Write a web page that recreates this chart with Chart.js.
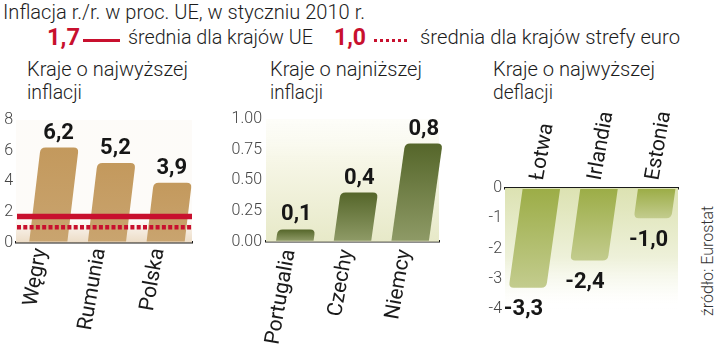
<!DOCTYPE html>
<html lang="pl">
<head>
<meta charset="utf-8">
<script src="https://cdn.jsdelivr.net/npm/chart.js@4/dist/chart.umd.min.js"></script>
<style>
  html, body { margin: 0; padding: 0; background: #fff; }
  body { width: 720px; height: 344px; position: relative; overflow: hidden;
         font-family: Roboto, "Noto Sans", sans-serif; color: #1c1c1c; }
  .t { position: absolute; white-space: nowrap; line-height: 1; transform-origin: 0 0; }
  .light { font-weight: 300; font-size: 21px; }
  .num { font-weight: 700; font-size: 24px; color: #c8102e; }
  .lineSolid { position: absolute; height: 3.5px; background: #c8102e; }
  .lineDot { position: absolute; height: 3.5px;
             background: repeating-linear-gradient(to right, #c8102e 0 3.5px, transparent 3.5px 6px); }
  canvas { position: absolute; }
  .src { position: absolute; font-weight: 300; font-size: 16px; white-space: nowrap;
         transform-origin: 0 0; transform: rotate(-90deg); line-height: 1; color: #333; }
</style>
</head>
<body>
  <div class="t light" data-w="362" data-base="20" style="left:3px">Inflacja r./r. w proc. UE, w styczniu 2010 r.</div>
  <div class="t num" id="euAvgNum" data-w="33" data-base="45" style="left:47px"></div>
  <div class="lineSolid" style="left:83px; top:38.5px; width:37px"></div>
  <div class="t light" data-w="185" data-base="45" style="left:128px">średnia dla krajów UE</div>
  <div class="t num" id="euroAvgNum" data-w="32" data-base="45" style="left:334px"></div>
  <div class="lineDot" style="left:374px; top:38.5px; width:36px"></div>
  <div class="t light" data-w="260" data-base="45" style="left:420px">średnia dla krajów strefy euro</div>

  <div class="t light" data-w="161" data-base="77" style="left:27px">Kraje o najwyższej</div>
  <div class="t light" data-w="55" data-base="100" style="left:27px">inflacji</div>
  <div class="t light" data-w="152" data-base="77" style="left:270px">Kraje o najniższej</div>
  <div class="t light" data-w="53" data-base="100" style="left:270px">inflacji</div>
  <div class="t light" data-w="162" data-base="77" style="left:493px">Kraje o najwyższej</div>
  <div class="t light" data-w="60" data-base="100" style="left:493px">deflacji</div>

  <div class="src" style="left:700px; top:316px">źródło: Eurostat</div>

  <canvas id="c1" width="200" height="244" style="left:0; top:100px"></canvas>
  <canvas id="c2" width="230" height="244" style="left:220px; top:100px"></canvas>
  <canvas id="c3" width="220" height="244" style="left:470px; top:100px"></canvas>

<script>
// Annual inflation, January 2010 (%)
const highCountries = ['Węgry', 'Rumunia', 'Polska'];
const highInflation = [6.2, 5.2, 3.9];

const lowCountries = ['Portugalia', 'Czechy', 'Niemcy'];
const lowInflation = [0.1, 0.4, 0.8];

const deflCountries = ['Łotwa', 'Irlandia', 'Estonia'];
const deflation = [-3.3, -2.4, -1.0];

const euAverage = 1.7;
const euroAverage = 1.0;

const RED = '#c8102e';
const fmt = v => v.toFixed(1).replace('.', ',');

document.getElementById('euAvgNum').textContent = fmt(euAverage);
document.getElementById('euroAvgNum').textContent = fmt(euroAverage);

// place header texts on their baselines and fit them to their widths
document.querySelectorAll('.t').forEach(el => {
  const fs = parseFloat(getComputedStyle(el).fontSize);
  const base = parseFloat(el.dataset.base);
  el.style.top = (base - 0.842 * fs) + 'px';
  const w = el.getBoundingClientRect().width;
  const target = parseFloat(el.dataset.w);
  el.style.transform = 'scaleX(' + (target / w) + ')';
});

// slanted, round-ended bars + backdrop + value labels + category names
const slantBars = {
  id: 'slantBars',
  beforeDatasetsDraw(chart, args, o) {
    const { ctx, chartArea: a } = chart;
    ctx.save();
    const g = ctx.createLinearGradient(0, o.bgFrom, 0, o.bgTo);
    o.bgStops.forEach(s => g.addColorStop(s[0], s[1]));
    ctx.fillStyle = g;
    ctx.fillRect(a.left, a.top, a.right - a.left, a.bottom - a.top);
    ctx.restore();
  },
  afterDatasetsDraw(chart, args, o) {
    const { ctx } = chart;
    const meta = chart.getDatasetMeta(0);
    meta.data.forEach(el => {
      const { x, y, base, width } = el.getProps(['x', 'y', 'base', 'width'], true);
      const sx = yy => x + o.off0 + o.k * (base - yy);
      const h = width / 2, r = 5;
      const dir = y < base ? 1 : -1;      // 1: upward bar, -1: downward bar
      const yr = y + dir * r;
      const g = ctx.createLinearGradient(0, Math.min(y, base), 0, Math.max(y, base));
      o.barStops.forEach(s => g.addColorStop(s[0], s[1]));
      ctx.save();
      ctx.fillStyle = g;
      ctx.beginPath();
      ctx.moveTo(sx(base) - h, base);
      ctx.lineTo(sx(yr) - h, yr);
      ctx.quadraticCurveTo(sx(y) - h, y, sx(y) - h + r, y);
      ctx.lineTo(sx(y) + h - r, y);
      ctx.quadraticCurveTo(sx(y) + h, y, sx(yr) + h, yr);
      ctx.lineTo(sx(base) + h, base);
      ctx.closePath();
      ctx.fill();
      ctx.restore();
    });
  },
  afterDraw(chart, args, o) {
    const { ctx, chartArea: a } = chart;
    const ys = chart.scales.y, xs = chart.scales.x;
    ctx.save();
    (o.refLines || []).forEach(l => {
      const py = ys.getPixelForValue(l.value);
      ctx.strokeStyle = RED;
      ctx.lineWidth = l.width;
      ctx.setLineDash(l.dash || []);
      ctx.beginPath();
      ctx.moveTo(a.left + 1, py);
      ctx.lineTo(a.right, py);
      ctx.stroke();
    });
    ctx.setLineDash([]);

    // value labels
    const meta = chart.getDatasetMeta(0);
    const vals = chart.data.datasets[0].data;
    ctx.fillStyle = '#161616';
    ctx.font = '700 22px Roboto, sans-serif';
    ctx.textAlign = 'center';
    meta.data.forEach((el, i) => {
      const { x, y, base } = el.getProps(['x', 'y', 'base'], true);
      const cx = x + o.off0 + o.k * (base - y) + o.labelDx;
      if (y < base) {
        ctx.textBaseline = 'alphabetic';
        ctx.fillText(fmt(vals[i]), cx, y - 9);
      } else {
        ctx.textBaseline = 'top';
        ctx.fillText(fmt(vals[i]), cx, y + 11);
      }
    });

    // category names, nearly vertical
    const c = o.cat;
    const axisY = c.top ? a.top : a.bottom;
    ctx.fillStyle = '#1a1a1a';
    ctx.font = '400 21px Roboto, sans-serif';
    ctx.textBaseline = 'alphabetic';
    ctx.textAlign = c.top ? 'left' : 'right';
    chart.data.labels.forEach((lab, i) => {
      const px = xs.getPixelForTick(i) + c.dx;
      const py = axisY + (c.top ? -c.dy : c.dy);
      ctx.save();
      ctx.translate(px, py);
      ctx.rotate(-80 * Math.PI / 180);
      ctx.fillText(lab, 0, 0);
      ctx.restore();
    });
    ctx.restore();
  }
};

function panel(id, cfg) {
  return new Chart(document.getElementById(id), {
    type: 'bar',
    data: {
      labels: cfg.labels,
      datasets: [{ data: cfg.values, backgroundColor: 'rgba(0,0,0,0)', borderWidth: 0,
                   barPercentage: 0.65, categoryPercentage: 1 }]
    },
    options: {
      responsive: false,
      animation: false,
      devicePixelRatio: 1,
      events: [],
      layout: { padding: cfg.padding },
      plugins: {
        legend: { display: false },
        tooltip: { enabled: false },
        slantBars: cfg.style
      },
      scales: {
        x: {
          position: cfg.xPos,
          z: 1,
          grid: { display: false },
          border: { display: true, color: '#1a1a1a', width: 2.5 },
          ticks: { display: false },
          afterFit: s => { s.height = cfg.xHeight; }
        },
        y: {
          min: cfg.min, max: cfg.max,
          z: 1,
          border: { display: false },
          grid: { color: 'rgba(255,255,255,0.9)', lineWidth: 2, drawTicks: false },
          ticks: { stepSize: cfg.step, padding: cfg.yPad, color: '#444',
                   font: { family: 'Roboto', size: 16, weight: '300' },
                   callback: cfg.tickFmt },
          afterFit: s => { s.width = cfg.yWidth; }
        }
      }
    },
    plugins: [slantBars]
  });
}

panel('c1', {
  labels: highCountries, values: highInflation,
  min: 0, max: 8, step: 2, tickFmt: v => String(v),
  padding: { top: 20, right: 8, left: 0, bottom: 0 },
  xPos: 'bottom', xHeight: 101.5, yWidth: 16, yPad: 3,
  style: {
    off0: 3, k: 0.12, labelDx: -1,
    bgFrom: 120, bgTo: 142.5,
    bgStops: [[0, 'rgba(250,245,238,0.4)'], [0.35, '#f7efe5'], [1, '#ecdcc6']],
    barStops: [[0, '#c3995d'], [1, '#c9a46f']],
    refLines: [
      { value: euAverage, width: 5.5 },
      { value: euroAverage, width: 4.5, dash: [4, 2.3] }
    ],
    cat: { top: false, dx: 1, dy: 7 }
  }
});

panel('c2', {
  labels: lowCountries, values: lowInflation,
  min: 0, max: 1, step: 0.25, tickFmt: v => v.toFixed(2),
  padding: { top: 19, right: 11, left: 0, bottom: 0 },
  xPos: 'bottom', xHeight: 102.3, yWidth: 46, yPad: 4,
  style: {
    off0: 0, k: 0.14, labelDx: 0,
    bgFrom: 19, bgTo: 141.7,
    bgStops: [[0, 'rgba(250,250,240,0.4)'], [0.35, '#f6f6e6'], [1, '#e7e9c8']],
    barStops: [[0, '#55662a'], [1, '#8e9a66']],
    cat: { top: false, dx: 0, dy: 9 }
  }
});

panel('c3', {
  labels: deflCountries, values: deflation,
  min: -4, max: 0, step: 1, tickFmt: v => String(v),
  padding: { top: 0, right: 12, left: 0, bottom: 35 },
  xPos: 'top', xHeight: 88, yWidth: 35, yPad: 3,
  style: {
    off0: 7.5, k: 0.14, labelDx: -4,
    bgFrom: 88, bgTo: 205,
    bgStops: [[0, '#dce2b2'], [0.6, '#eef1da'], [1, 'rgba(255,255,255,0.5)']],
    barStops: [[0, '#9cad47'], [1, '#c3cc8e']],
    cat: { top: true, dx: 9, dy: 7 }
  }
});
</script>
</body>
</html>
